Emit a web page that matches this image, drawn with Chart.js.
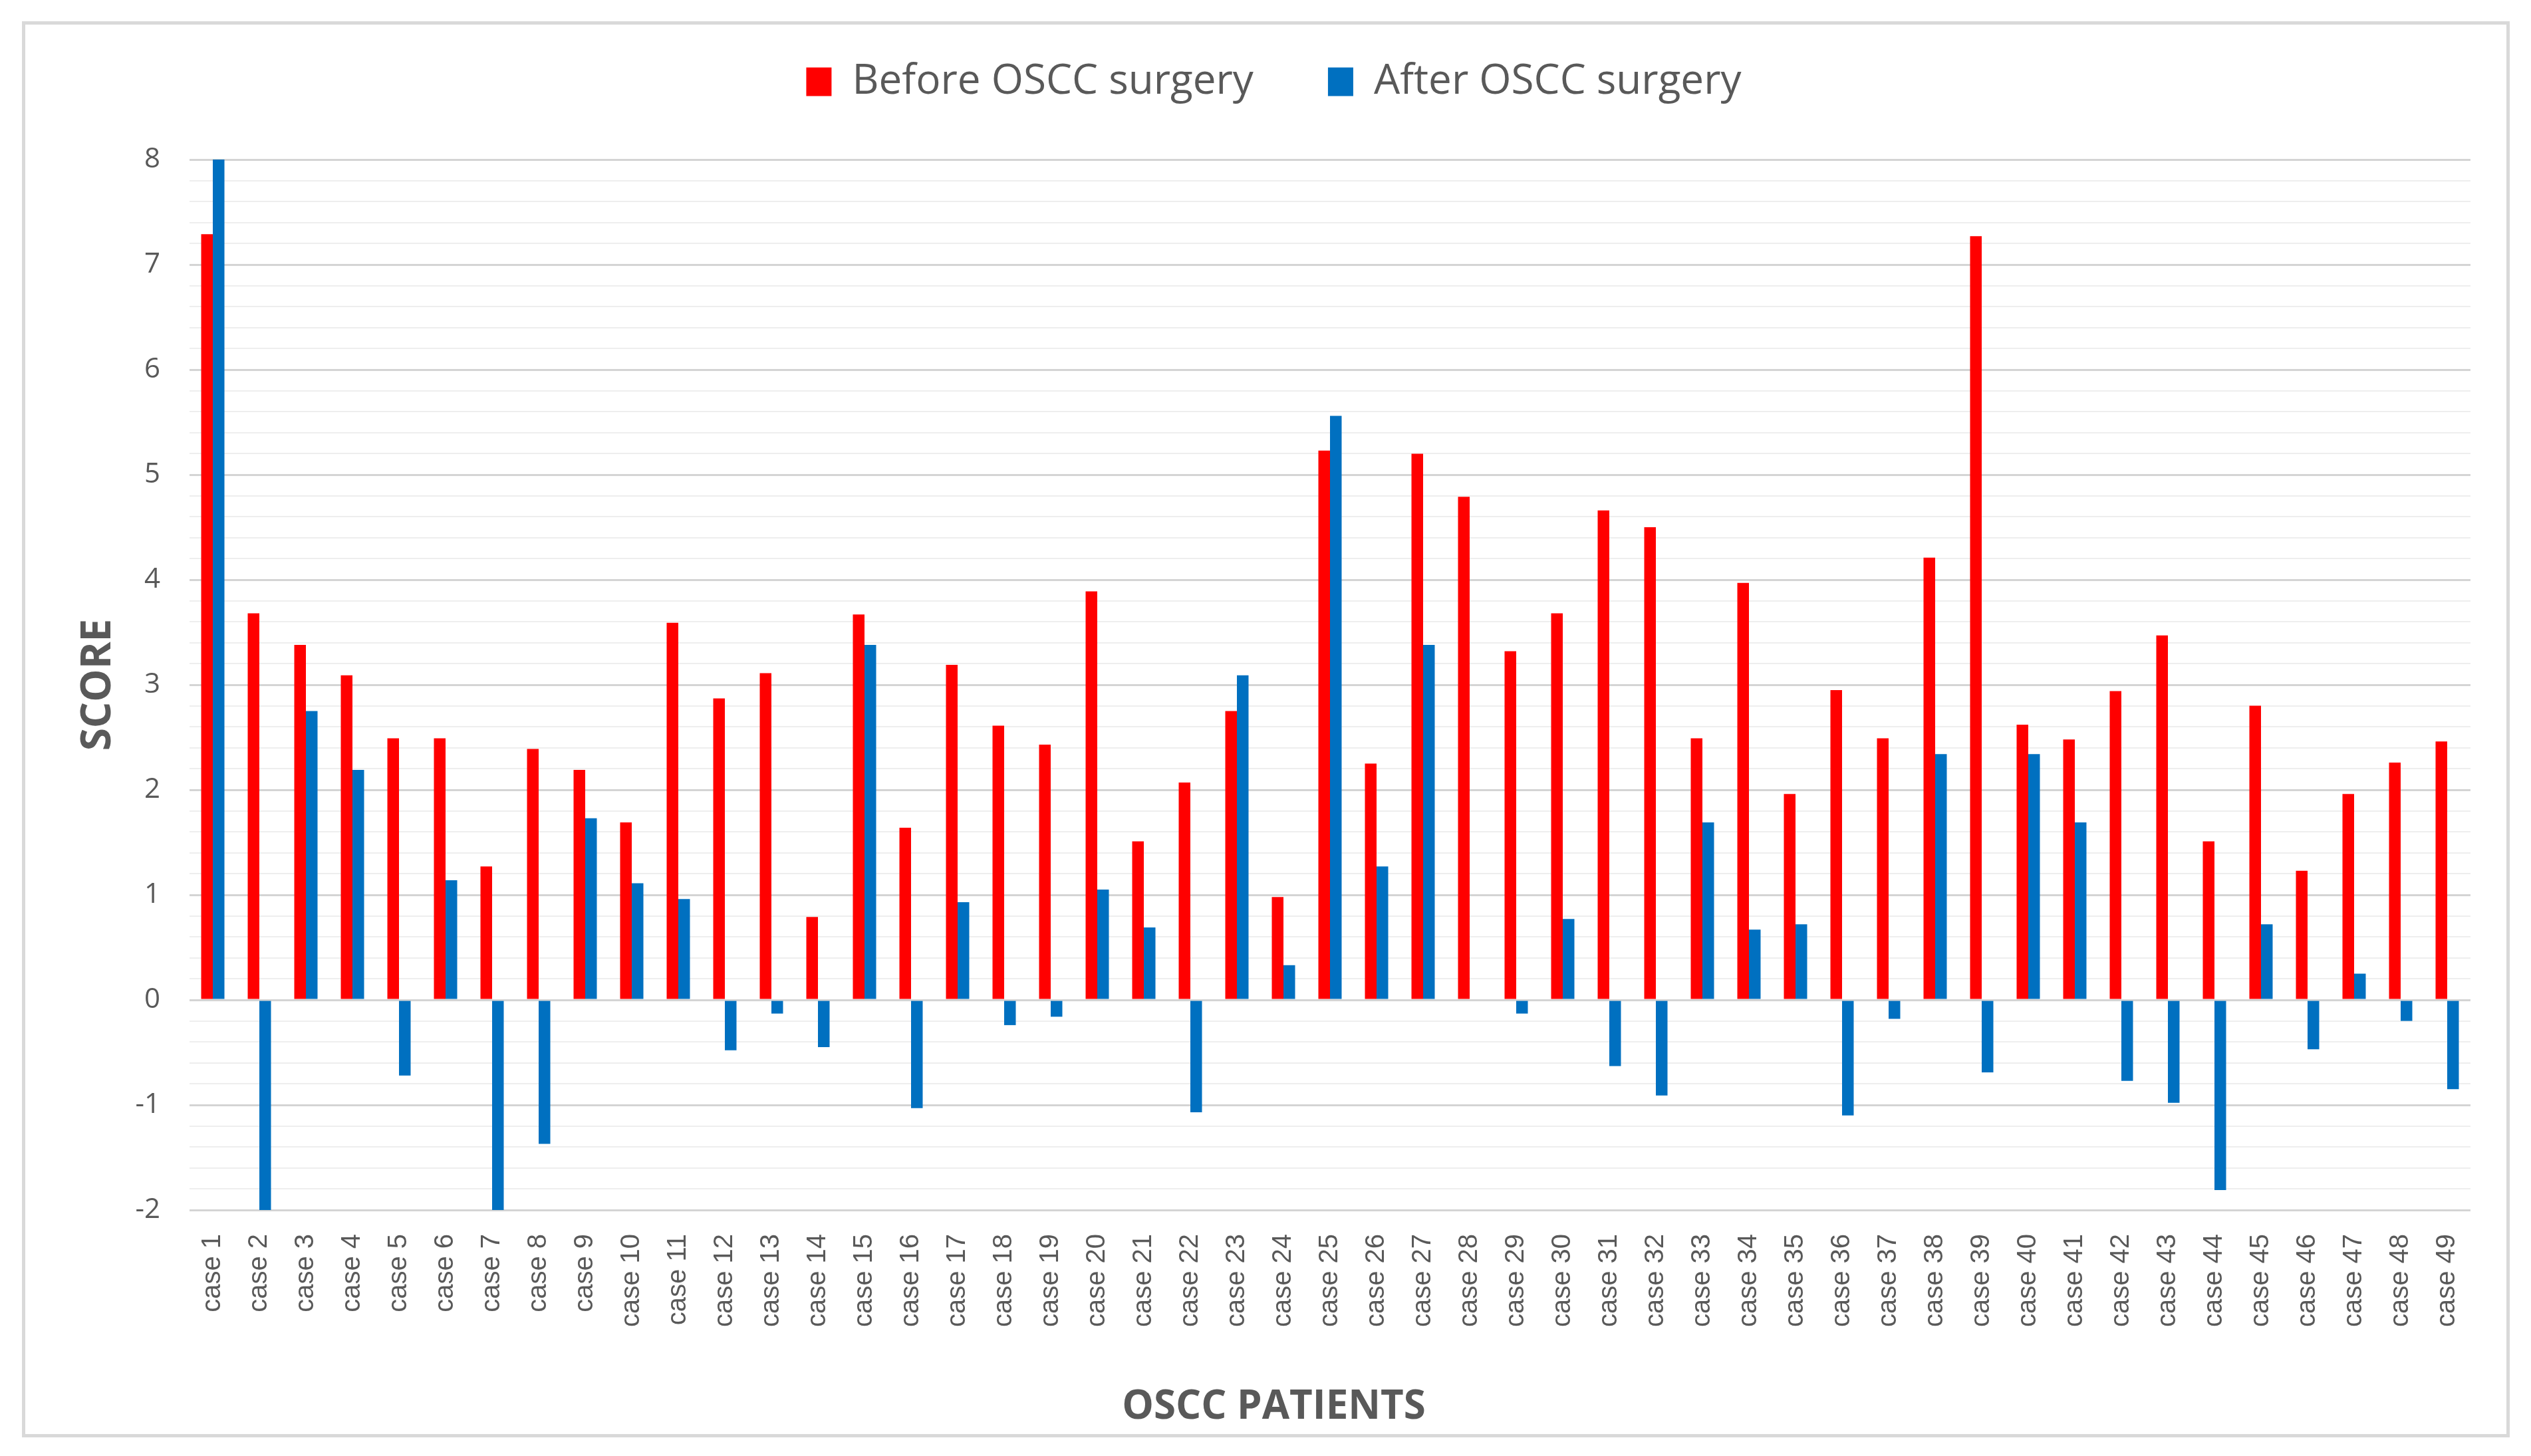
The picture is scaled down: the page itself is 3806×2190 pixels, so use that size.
<!DOCTYPE html>
<html>
<head>
<meta charset="utf-8">
<script src="https://cdn.jsdelivr.net/npm/chart.js@4/dist/chart.umd.min.js"></script>
<style>
    body { margin: 0; background: #fff; }
    #frame {
        position: absolute; left: 33px; top: 32px; width: 3741px; height: 2130px;
        border: 5px solid #d9d9d9; box-sizing: border-box;
    }
    #wrap { position: absolute; left: 0; top: 0; width: 3806px; height: 2190px; }
</style>
</head>
<body>
<div id="frame"></div>
<div id="wrap"><canvas id="scoreChart"></canvas></div>
<script>
// case labels
const cases = ["case 1", "case 2", "case 3", "case 4", "case 5", "case 6", "case 7", "case 8", "case 9", "case 10",
    "case 11", "case 12", "case 13", "case 14", "case 15", "case 16", "case 17", "case 18", "case 19", "case 20",
    "case 21", "case 22", "case 23", "case 24", "case 25", "case 26", "case 27", "case 28", "case 29", "case 30",
    "case 31", "case 32", "case 33", "case 34", "case 35", "case 36", "case 37", "case 38", "case 39", "case 40",
    "case 41", "case 42", "case 43", "case 44", "case 45", "case 46", "case 47", "case 48", "case 49"];

// scores
const beforeSurgery = [7.29, 3.68, 3.38, 3.09, 2.49, 2.49, 1.27, 2.39, 2.19, 1.69,
    3.59, 2.87, 3.11, 0.79, 3.67, 1.64, 3.19, 2.61, 2.43, 3.89,
    1.51, 2.07, 2.75, 0.98, 5.23, 2.25, 5.20, 4.79, 3.32, 3.68,
    4.66, 4.50, 2.49, 3.97, 1.96, 2.95, 2.49, 4.21, 7.27, 2.62,
    2.48, 2.94, 3.47, 1.51, 2.80, 1.23, 1.96, 2.26, 2.46];

const afterSurgery = [8.00, -2.00, 2.75, 2.19, -0.72, 1.14, -2.00, -1.37, 1.73, 1.11,
    0.96, -0.48, -0.13, -0.45, 3.38, -1.03, 0.93, -0.24, -0.16, 1.05,
    0.69, -1.07, 3.09, 0.33, 5.56, 1.27, 3.38, 0, -0.13, 0.77,
    -0.63, -0.91, 1.69, 0.67, 0.72, -1.10, -0.18, 2.34, -0.69, 2.34,
    1.69, -0.77, -0.98, -1.81, 0.72, -0.47, 0.25, -0.20, -0.85];

// y axis range and tick labels
const yMin = -2;
const yMax = 8;
const yStep = 0.2;

const grey = "#595959";

function isMajor(v) {
    return Math.abs(v - Math.round(v)) < 1e-6;
}

// push the plot down below the legend
const legendGap = {
    id: "legendGap",
    beforeInit(chart) {
        const fit = chart.legend.fit;
        chart.legend.fit = function () {
            fit.bind(chart.legend)();
            this.height += 76;
        };
    }
};

const ctx = document.getElementById("scoreChart").getContext("2d");

new Chart(ctx, {
    type: "bar",
    data: {
        labels: cases,
        datasets: [
            {
                label: "Before OSCC surgery",
                data: beforeSurgery,
                backgroundColor: "#ff0000"
            },
            {
                label: "After OSCC surgery",
                data: afterSurgery,
                backgroundColor: "#0070c0"
            }
        ]
    },
    options: {
        responsive: true,
        maintainAspectRatio: false,
        devicePixelRatio: 1,
        animation: false,
        layout: { padding: { top: -20, left: 116, right: 91, bottom: 37 } },
        datasets: {
            bar: { categoryPercentage: 0.5, barPercentage: 1.0 }
        },
        plugins: {
            tooltip: { enabled: false },
            legend: {
                position: "top",
                labels: {
                    boxWidth: 38,
                    boxHeight: 43,
                    padding: 112,
                    color: grey,
                    font: { family: "Open Sans", size: 62 }
                }
            },
            title: {
                display: true,
                position: "bottom",
                text: "OSCC PATIENTS",
                color: grey,
                padding: 0,
                font: { family: "Open Sans", size: 60, weight: "bold", lineHeight: 1.2 }
            }
        },
        scales: {
            x: {
                grid: { display: false },
                border: { display: false },
                ticks: {
                    minRotation: 90,
                    maxRotation: 90,
                    autoSkip: false,
                    padding: 28,
                    color: grey,
                    font: { family: "Liberation Sans", size: 40 }
                },
                afterFit(scale) { scale.height = 261; }
            },
            y: {
                min: yMin,
                max: yMax,
                border: { display: false },
                grid: {
                    drawTicks: false,
                    color: c => isMajor(c.tick.value) ? "#d4d4d4" : "#eeeeee",
                    lineWidth: c => isMajor(c.tick.value) ? 3 : 2
                },
                ticks: {
                    stepSize: yStep,
                    autoSkip: false,
                    maxTicksLimit: 100,
                    padding: 44,
                    color: grey,
                    font: { family: "Open Sans", size: 42 },
                    callback: v => isMajor(v) ? String(Math.round(v)) : ""
                },
                title: {
                    display: true,
                    text: "SCORE",
                    color: grey,
                    padding: { top: 1, bottom: 0 },
                    font: { family: "Open Sans", size: 62, weight: "bold", lineHeight: 1.0 }
                },
                afterFit(scale) { scale.width = 169; }
            }
        }
    },
    plugins: [legendGap]
});
</script>
</body>
</html>
